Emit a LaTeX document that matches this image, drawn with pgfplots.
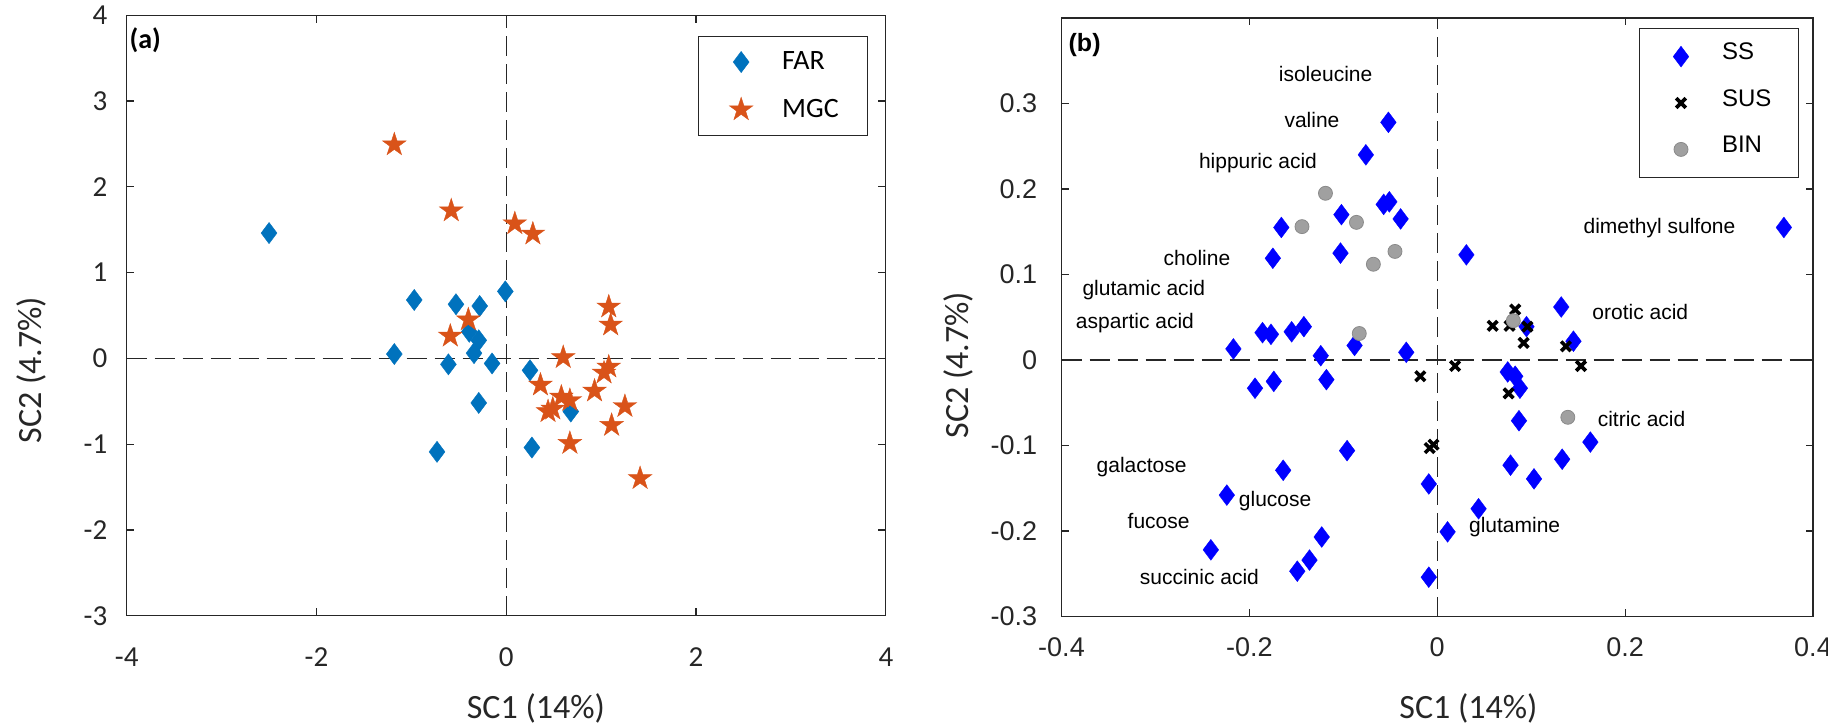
\documentclass[border=0pt]{standalone}
\usepackage{pgfplots}
\pgfplotsset{compat=1.18}
\usepackage{fontspec}
\setmainfont{Carlito}
\newfontfamily\arialf{Liberation Sans}

\definecolor{farblue}{HTML}{0072BD}
\definecolor{mgcorange}{HTML}{D95319}
\definecolor{axgray}{HTML}{262626}
\definecolor{bingray}{HTML}{A0A0A0}
\definecolor{binedge}{HTML}{8A8A8A}

\pgfdeclareplotmark{pentagram}{%
  \pgfpathmoveto{\pgfpointpolar{90}{\pgfplotmarksize}}%
  \pgfpathlineto{\pgfpointpolar{126}{0.382*\pgfplotmarksize}}%
  \pgfpathlineto{\pgfpointpolar{162}{\pgfplotmarksize}}%
  \pgfpathlineto{\pgfpointpolar{198}{0.382*\pgfplotmarksize}}%
  \pgfpathlineto{\pgfpointpolar{234}{\pgfplotmarksize}}%
  \pgfpathlineto{\pgfpointpolar{270}{0.382*\pgfplotmarksize}}%
  \pgfpathlineto{\pgfpointpolar{306}{\pgfplotmarksize}}%
  \pgfpathlineto{\pgfpointpolar{342}{0.382*\pgfplotmarksize}}%
  \pgfpathlineto{\pgfpointpolar{18}{\pgfplotmarksize}}%
  \pgfpathlineto{\pgfpointpolar{54}{0.382*\pgfplotmarksize}}%
  \pgfpathclose
  \pgfusepathqfillstroke
}

\pgfdeclareplotmark{fatx}{%
  \pgfsetlinewidth{1.8pt}%
  \pgfpathmoveto{\pgfqpoint{-\pgfplotmarksize}{-\pgfplotmarksize}}%
  \pgfpathlineto{\pgfqpoint{\pgfplotmarksize}{\pgfplotmarksize}}%
  \pgfpathmoveto{\pgfqpoint{-\pgfplotmarksize}{\pgfplotmarksize}}%
  \pgfpathlineto{\pgfqpoint{\pgfplotmarksize}{-\pgfplotmarksize}}%
  \pgfusepathqstroke
}

\pgfplotsset{
  base/.style={
    scale only axis,
    axis line style={axgray, line width=0.6pt},
    major tick style={axgray, line width=0.6pt},
    major tick length=3.7pt,
    tick align=inside,
    /pgf/number format/assume math mode=true,
    label style={font=\fontsize{17}{20}\selectfont, text=axgray, anchor=center},
    legend cell align=left,
  },
  zeroline/.style={forget plot, black!85, line width=0.65pt, dash pattern=on 10pt off 4pt},
}

\begin{document}
\begin{tikzpicture}
\useasboundingbox (-63.35pt,-54.65pt) rectangle (850.65pt,307.85pt);

% ---------------- panel (a)
\begin{axis}[base,
  at={(0pt,0pt)}, anchor=south west,
  width=379.6pt, height=300.3pt,
  xmin=-4, xmax=4, ymin=-3, ymax=4,
  xtick={-4,-2,0,2,4}, ytick={-3,-2,-1,0,1,2,3,4},
  ticklabel style={font=\fontsize{14.5}{17}\selectfont, text=axgray, inner sep=0pt},
  xticklabel style={anchor=center, yshift=-20.5pt},
  yticklabel style={anchor=east, xshift=-9.5pt},
  xlabel={SC1 (14\%)}, ylabel={SC2 (4.7\%)},
  xlabel style={at={(axis description cs:0.539,-0.154)}},
  ylabel style={at={(axis description cs:-0.125,0.409)}},
  legend style={at={(0.976,0.9657)}, anchor=north east, draw=axgray, line width=0.5pt,
    inner xsep=0pt, inner ysep=1pt, row sep=0pt, column sep=0pt,
    font=\fontsize{14}{16}\selectfont, nodes={inner sep=0pt}},
  legend image code/.code={\path[draw=none, fill=none] (-21.2pt,-11.9pt) rectangle (20.5pt,11.9pt);
    \draw[#1] plot coordinates {(0pt,0pt)};},
]
\addplot[zeroline] coordinates {(-4,0) (4,0)};
\addplot[zeroline] coordinates {(0,-3) (0,4)};

\addplot[only marks, mark=diamond*, mark size=5.3pt, color=farblue,
  mark options={fill=farblue, draw=farblue, line width=0.2pt}] coordinates {
 (-2.50,1.46) (-0.97,0.68) (-0.53,0.63) (-0.28,0.61) (-0.01,0.78)
 (-0.39,0.31) (-0.29,0.21) (-0.34,0.06) (-1.18,0.05) (-0.61,-0.07)
 (-0.15,-0.06) (-0.29,-0.52) (-0.73,-1.09) (0.25,-0.14) (0.68,-0.62)
 (0.27,-1.04)
};
\addlegendentry{\makebox[42.5pt][l]{FAR}}

\addplot[only marks, mark=pentagram, mark size=6.2pt, color=mgcorange,
  mark options={fill=mgcorange, draw=mgcorange, line width=0.2pt}] coordinates {
 (-1.18,2.49) (-0.58,1.72) (0.09,1.57) (0.28,1.45) (-0.40,0.45)
 (-0.59,0.26) (1.08,0.60) (1.10,0.39) (0.60,0.01) (1.08,-0.10)
 (1.03,-0.17) (0.36,-0.31) (0.93,-0.38) (0.58,-0.45) (0.67,-0.49)
 (0.49,-0.59) (0.44,-0.62) (1.25,-0.56) (1.11,-0.78) (0.67,-0.99)
 (1.41,-1.40)
};
\addlegendentry{\makebox[42.5pt][l]{MGC}}

\node[anchor=west, inner sep=0pt, font=\bfseries\fontsize{14}{16}\selectfont, text=black]
  at (axis description cs:0.0034,0.958) {(a)};
\end{axis}

% ---------------- panel (b)
\begin{axis}[base,
  at={(467.4pt,-0.4pt)}, anchor=south west,
  width=375.75pt, height=299.25pt,
  xmin=-0.4, xmax=0.4, ymin=-0.3, ymax=0.4,
  xtick={-0.4,-0.2,0,0.2,0.4}, ytick={-0.3,-0.2,-0.1,0,0.1,0.2,0.3},
  ticklabel style={font=\arialf\fontsize{13.5}{16}\selectfont, text=axgray, inner sep=0pt},
  xticklabel style={anchor=center, yshift=-15.3pt},
  yticklabel style={anchor=east, xshift=-12pt},
  xlabel={SC1 (14\%)}, ylabel={SC2 (4.7\%)},
  xlabel style={at={(axis description cs:0.5416,-0.1534)}},
  ylabel style={at={(axis description cs:-0.1373,0.42)}},
  legend style={at={(0.9818,0.9828)}, anchor=north east, draw=axgray, line width=0.5pt,
    inner xsep=0pt, inner ysep=2.3pt, row sep=0pt, column sep=0pt,
    font=\arialf\fontsize{12}{14}\selectfont, nodes={inner sep=0pt}},
  legend image code/.code={\path[draw=none, fill=none] (-20.8pt,-11.6pt) rectangle (20.5pt,11.6pt);
    \draw[#1] plot coordinates {(0pt,0pt)};},
]
\addplot[zeroline] coordinates {(-0.4,0) (0.4,0)};
\addplot[zeroline] coordinates {(0,-0.3) (0,0.4)};

\addplot[only marks, mark=diamond*, mark size=5.2pt, color=blue,
  mark options={fill=blue, draw=blue, line width=0.2pt}] coordinates {
 (-0.052,0.278) (-0.076,0.240) (-0.057,0.182) (-0.051,0.185) (-0.102,0.170)
 (-0.039,0.165) (-0.166,0.155) (-0.175,0.119) (-0.103,0.125) (0.031,0.123)
 (0.369,0.155) (0.132,0.062) (0.145,0.022) (0.095,0.039) (-0.217,0.013)
 (-0.186,0.032) (-0.177,0.030) (-0.155,0.033) (-0.142,0.039) (-0.124,0.005)
 (-0.088,0.017) (-0.033,0.009) (-0.194,-0.033) (-0.174,-0.025) (-0.118,-0.023)
 (0.075,-0.014) (0.083,-0.019) (0.088,-0.033) (0.087,-0.071) (0.163,-0.096)
 (0.133,-0.116) (0.078,-0.123) (0.103,-0.139) (-0.096,-0.106) (-0.164,-0.129)
 (-0.224,-0.158) (-0.009,-0.145) (0.044,-0.174) (0.011,-0.201) (-0.123,-0.207)
 (-0.136,-0.234) (-0.149,-0.247) (-0.241,-0.222) (-0.009,-0.254)
};
\addlegendentry{\makebox[38.4pt][l]{\raisebox{3.5pt}{SS}}}

\addplot[only marks, mark=fatx, mark size=2.4pt, color=black,
  mark options={draw=black}] coordinates {
 (0.083,0.059) (0.059,0.040) (0.077,0.040) (0.096,0.039) (0.092,0.020)
 (0.137,0.016) (0.153,-0.007) (0.019,-0.007) (-0.018,-0.019) (0.076,-0.039)
 (-0.008,-0.103) (-0.004,-0.099)
};
\addlegendentry{\makebox[38.4pt][l]{\raisebox{3.5pt}{SUS}}}

\addplot[only marks, mark=*, mark size=3.5pt,
  mark options={fill=bingray, draw=binedge, line width=0.4pt}] coordinates {
 (0.081,0.046) (0.139,-0.067) (-0.119,0.195) (-0.144,0.156) (-0.086,0.161)
 (-0.045,0.127) (-0.068,0.112) (-0.083,0.031)
};
\addlegendentry{\makebox[38.4pt][l]{\raisebox{3.5pt}{BIN}}}

\begin{scope}[every node/.style={anchor=mid west, inner sep=0pt, font=\arialf\fontsize{10.5}{12}\selectfont, text=black}]
\node at (axis cs:-0.169,0.3315) {isoleucine};
\node at (axis cs:-0.163,0.2775) {valine};
\node at (axis cs:-0.254,0.2295) {hippuric acid};
\node at (axis cs:-0.2916,0.116) {choline};
\node at (axis cs:-0.378,0.0805) {glutamic acid};
\node at (axis cs:-0.385,0.0427) {aspartic acid};
\node at (axis cs:0.1554,0.153) {dimethyl sulfone};
\node at (axis cs:0.1648,0.0524) {orotic acid};
\node at (axis cs:0.1705,-0.0718) {citric acid};
\node at (axis cs:-0.363,-0.1258) {galactose};
\node at (axis cs:-0.2115,-0.1663) {glucose};
\node at (axis cs:-0.330,-0.1917) {fucose};
\node at (axis cs:-0.317,-0.257) {succinic acid};
\node at (axis cs:0.0335,-0.196) {glutamine};
\end{scope}

\node[anchor=west, inner sep=0pt, font=\arialf\bfseries\fontsize{12.5}{15}\selectfont, text=black]
  at (axis description cs:0.009,0.955) {(b)};
\end{axis}
\end{tikzpicture}
\end{document}
